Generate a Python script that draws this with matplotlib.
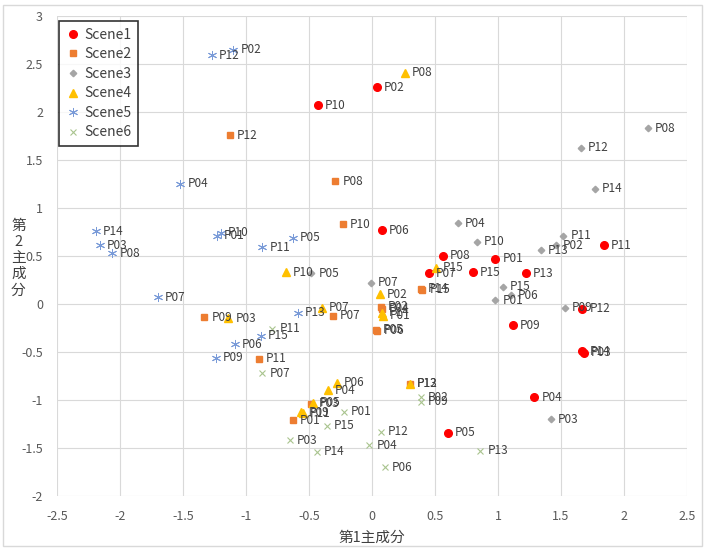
import matplotlib
matplotlib.use("Agg")
import matplotlib.pyplot as plt
from matplotlib.patches import Rectangle

plt.rcParams['font.family'] = ['Noto Sans CJK JP', 'DejaVu Sans']

# scene data: (label, pc1, pc2)
s1_labels = ["P01", "P02", "P03", "P04", "P05", "P06", "P07", "P08", "P09", "P10", "P11", "P12", "P13", "P14", "P15"]
s1_x = [0.98, 0.04, 1.68, 1.29, 0.60, 0.08, 0.45, 0.56, 1.12, -0.43, 1.84, 1.67, 1.22, 1.67, 0.80]
s1_y = [0.47, 2.26, -0.51, -0.97, -1.34, 0.77, 0.32, 0.50, -0.22, 2.07, 0.61, -0.05, 0.32, -0.49, 0.33]

s2_labels = ["P01", "P02", "P03", "P04", "P05", "P06", "P07", "P08", "P09", "P10", "P11", "P12", "P13", "P14", "P15"]
s2_x = [-0.63, 0.07, -0.48, 0.08, 0.03, 0.04, -0.31, -0.29, -1.33, -0.23, -0.90, -1.13, 0.30, 0.39, 0.40]
s2_y = [-1.21, -0.03, -1.04, -0.05, -0.27, -0.28, -0.12, 1.28, -0.14, 0.83, -0.57, 1.76, -0.83, 0.16, 0.15]

s3_labels = ["P01", "P02", "P03", "P04", "P05", "P06", "P07", "P08", "P09", "P10", "P11", "P12", "P13", "P14", "P15"]
s3_x = [0.98, 1.46, 1.42, 0.68, -0.48, 1.10, -0.01, 2.19, 1.53, 0.83, 1.52, 1.66, 1.34, 1.77, 1.04]
s3_y = [0.04, 0.61, -1.20, 0.84, 0.32, 0.09, 0.22, 1.83, -0.04, 0.65, 0.71, 1.63, 0.56, 1.20, 0.18]

s4_labels = ["P01", "P02", "P03", "P04", "P05", "P06", "P07", "P08", "P09", "P10", "P11", "P12", "P14", "P15"]
s4_x = [0.09, 0.06, -1.14, -0.35, -0.47, -0.28, -0.40, 0.26, -0.56, -0.68, -0.55, 0.30, 0.08, 0.51]
s4_y = [-0.12, 0.10, -0.15, -0.90, -1.03, -0.82, -0.04, 2.41, -1.13, 0.33, -1.14, -0.83, -0.09, 0.38]

s5_labels = ["P01", "P02", "P03", "P04", "P05", "P06", "P07", "P08", "P09", "P10", "P11", "P12", "P13", "P14", "P15"]
s5_x = [-1.23, -1.10, -2.16, -1.52, -0.63, -1.09, -1.70, -2.06, -1.24, -1.20, -0.87, -1.27, -0.59, -2.19, -0.88]
s5_y = [0.71, 2.65, 0.61, 1.25, 0.69, -0.42, 0.07, 0.53, -0.56, 0.74, 0.59, 2.59, -0.09, 0.76, -0.33]

s6_labels = ["P01", "P02", "P03", "P04", "P06", "P07", "P09", "P11", "P12", "P13", "P14", "P15"]
s6_x = [-0.22, 0.39, -0.65, -0.02, 0.10, -0.87, 0.39, -0.79, 0.07, 0.86, -0.44, -0.36]
s6_y = [-1.12, -0.97, -1.42, -1.47, -1.70, -0.72, -1.02, -0.26, -1.33, -1.53, -1.54, -1.27]

scenes = [
    ("Scene1", s1_labels, s1_x, s1_y, dict(marker="o", color="#FF0000", ms=5.5)),
    ("Scene2", s2_labels, s2_x, s2_y, dict(marker="s", color="#ED7D31", ms=5)),
    ("Scene3", s3_labels, s3_x, s3_y, dict(marker="D", color="#A5A5A5", ms=3.3)),
    ("Scene4", s4_labels, s4_x, s4_y, dict(marker="^", color="#FFC000", ms=5.5)),
    ("Scene5", s5_labels, s5_x, s5_y, dict(marker=(6, 2, 0), color="#7A9BD8", ms=6.5, mew=0.7)),
    ("Scene6", s6_labels, s6_x, s6_y, dict(marker="x", color="#A9C48F", ms=5, mew=0.8)),
]

fig = plt.figure(figsize=(7.06, 5.49), dpi=100)
ax = fig.add_axes([0.0807, 0.0965, 0.8923, 0.8744])

for name, labels, xs, ys, st in scenes:
    ax.plot(xs, ys, linestyle="none", label=name, zorder=3, **st)
    for lab, x, y in zip(labels, xs, ys):
        ax.annotate(lab, (x, y), xytext=(5, 0), textcoords="offset points",
                    va="center", ha="left", fontsize=8.5, color="#404040", zorder=4)

ax.set_xlim(-2.5, 2.5)
ax.set_ylim(-2, 3)
ax.set_xticks([-2.5, -2, -1.5, -1, -0.5, 0, 0.5, 1, 1.5, 2, 2.5])
ax.set_yticks([-2, -1.5, -1, -0.5, 0, 0.5, 1, 1.5, 2, 2.5, 3])
ax.set_xticklabels(["-2.5", "-2", "-1.5", "-1", "-0.5", "0", "0.5", "1", "1.5", "2", "2.5"])
ax.set_yticklabels(["-2", "-1.5", "-1", "-0.5", "0", "0.5", "1", "1.5", "2", "2.5", "3"])
ax.grid(True, color="#D9D9D9", linewidth=0.8, zorder=0)
ax.set_axisbelow(True)
for sp in ax.spines.values():
    sp.set_visible(False)
ax.tick_params(length=0, labelsize=9, labelcolor="#595959", pad=10)

ax.set_xlabel("第1主成分", fontsize=10.5, color="#404040", labelpad=6)
fig.text(0.026, 0.53, "第\n2\n主\n成\n分", fontsize=10.5, color="#404040",
         ha="center", va="center", linespacing=1.2)

leg = ax.legend(loc="upper left", bbox_to_anchor=(0.003, 0.99), fontsize=10,
                frameon=True, fancybox=False, handletextpad=0.2, labelspacing=0.4,
                borderpad=0.5, handlelength=1.1, borderaxespad=0)
leg.get_frame().set_edgecolor("#000000")
leg.get_frame().set_linewidth(1.2)
for t in leg.get_texts():
    t.set_color("#404040")

fig.patches.append(Rectangle((0.004, 0.006), 0.991, 0.985, transform=fig.transFigure,
                             fill=False, edgecolor="#D9D9D9", linewidth=1))

fig.savefig("out.png", dpi=100)
